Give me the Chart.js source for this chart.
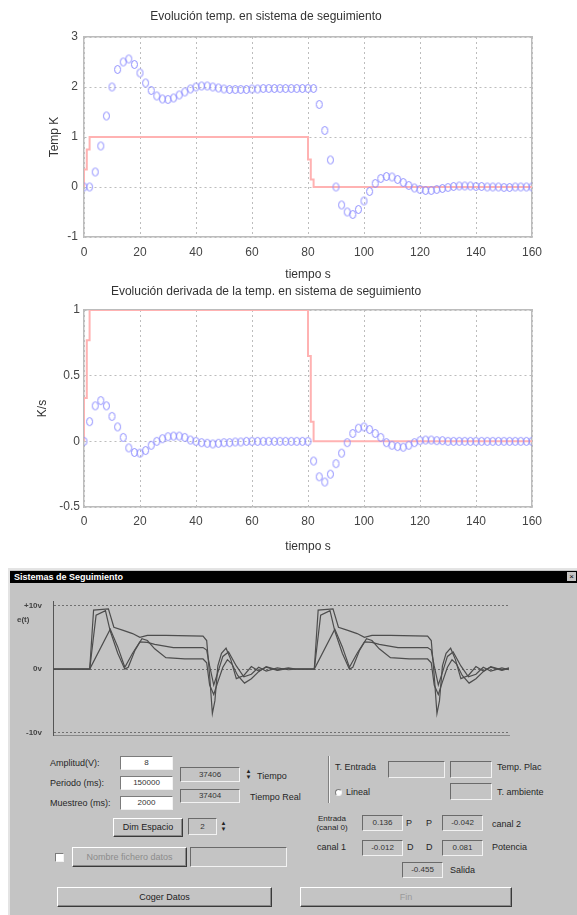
<!DOCTYPE html>
<html><head><meta charset="utf-8">
<script src="https://cdn.jsdelivr.net/npm/chart.js@4.4.1/dist/chart.umd.min.js"></script>
<style>
html,body{margin:0;padding:0;background:#fff;width:577px;height:915px;overflow:hidden;position:relative;font-family:'Liberation Sans',Arial,sans-serif;}
canvas{position:absolute;}
#win{position:absolute;left:8px;top:568px;width:569px;height:347px;background:#c4c4c4;border-left:2px solid #e4e4e4;border-top:2px solid #e4e4e4;box-sizing:border-box;}
#bar{position:absolute;left:10px;top:571px;width:567px;height:12px;background:#000;color:#fff;font:bold 9px 'Liberation Sans',Arial,sans-serif;line-height:12px;padding-left:4px;box-sizing:border-box;}
#closeb{position:absolute;left:567px;top:572px;width:9px;height:9px;background:#c4c4c4;font-size:8px;line-height:9px;text-align:center;color:#000;}
.t{position:absolute;font-size:9px;line-height:11px;white-space:nowrap;color:#262626;}
.w{position:absolute;background:#fff;border-top:1px solid #7b7b7b;border-left:1px solid #7b7b7b;border-right:1px solid #f2f2f2;border-bottom:1px solid #f2f2f2;box-sizing:border-box;font-size:8px;text-align:center;color:#333;}
.s{position:absolute;background:#c4c4c4;border-top:1px solid #6a6a6a;border-left:1px solid #6a6a6a;border-right:1px solid #f2f2f2;border-bottom:1px solid #f2f2f2;box-sizing:border-box;font-size:8px;text-align:center;color:#333;}
.b{position:absolute;background:#c4c4c4;border-top:1px solid #fff;border-left:1px solid #fff;border-right:1px solid #3a3a3a;border-bottom:1px solid #3a3a3a;box-shadow:inset -1px -1px 0 #8a8a8a;box-sizing:border-box;font-size:9px;text-align:center;color:#222;}
.sp{position:absolute;font-size:6px;line-height:6px;text-align:center;color:#222;}
</style>
</head><body>
<canvas id="c1" width="577" height="290" style="left:0;top:0"></canvas>
<canvas id="c2" width="577" height="285" style="left:0;top:280px"></canvas>
<div id="win"></div>
<div id="bar">Sistemas de Seguimiento</div>
<div id="closeb">×</div>
<canvas id="c3" width="520" height="165" style="left:8px;top:586px"></canvas>
<div class="t" style="left:17px;top:614px;font-size:8px;font-weight:bold;color:#444">e(t)</div>

<div class="t" style="left:50px;top:758px">Amplitud(V):</div>
<div class="t" style="left:50px;top:778px">Periodo (ms):</div>
<div class="t" style="left:50px;top:798px">Muestreo (ms):</div>
<div class="w" style="left:120px;top:756px;width:53px;height:14px;line-height:12px">8</div>
<div class="w" style="left:120px;top:776px;width:53px;height:14px;line-height:12px">150000</div>
<div class="w" style="left:120px;top:796px;width:53px;height:14px;line-height:12px">2000</div>
<div class="s" style="left:180px;top:767px;width:60px;height:15px;line-height:13px">37406</div>
<div class="sp" style="left:244px;top:768px;width:9px;height:14px">▲<br>▼</div>
<div class="t" style="left:257px;top:771px">Tiempo</div>
<div class="s" style="left:180px;top:789px;width:60px;height:14px;line-height:12px">37404</div>
<div class="t" style="left:250px;top:792px">Tiempo Real</div>
<div class="b" style="left:113px;top:818px;width:70px;height:19px;line-height:17px">Dim Espacio</div>
<div class="s" style="left:188px;top:818px;width:29px;height:17px;line-height:15px">2</div>
<div class="sp" style="left:219px;top:820px;width:9px;height:14px">▲<br>▼</div>
<div class="w" style="left:55px;top:853px;width:9px;height:9px"></div>
<div class="b" style="left:72px;top:847px;width:115px;height:20px;line-height:18px;color:#8c8c8c">Nombre fichero datos</div>
<div class="s" style="left:190px;top:847px;width:97px;height:20px"></div>
<div class="b" style="left:57px;top:887px;width:215px;height:20px;line-height:18px">Coger Datos</div>

<div style="position:absolute;left:328px;top:756px;width:1px;height:47px;background:#808080;border-right:1px solid #f2f2f2"></div>
<div class="t" style="left:335px;top:762px">T. Entrada</div>
<div class="s" style="left:388px;top:761px;width:57px;height:17px"></div>
<div class="s" style="left:450px;top:761px;width:42px;height:17px"></div>
<div class="t" style="left:497px;top:762px">Temp. Plac</div>
<div class="w" style="left:335px;top:789px;width:7px;height:7px;border-radius:50%"></div>
<div class="t" style="left:346px;top:787px">Lineal</div>
<div class="s" style="left:450px;top:783px;width:42px;height:17px"></div>
<div class="t" style="left:497px;top:787px">T. ambiente</div>
<div class="t" style="left:313px;top:814px;width:38px;text-align:center;line-height:9px;font-size:8px">Entrada<br>(canal 0)</div>
<div class="s" style="left:362px;top:815px;width:41px;height:16px;line-height:14px">0.136</div>
<div class="t" style="left:406px;top:818px">P</div>
<div class="t" style="left:426px;top:818px">P</div>
<div class="s" style="left:442px;top:815px;width:41px;height:16px;line-height:14px">-0.042</div>
<div class="t" style="left:492px;top:819px">canal 2</div>
<div class="t" style="left:317px;top:842px">canal 1</div>
<div class="s" style="left:362px;top:840px;width:41px;height:16px;line-height:14px">-0.012</div>
<div class="t" style="left:407px;top:842px">D</div>
<div class="t" style="left:426px;top:842px">D</div>
<div class="s" style="left:442px;top:840px;width:41px;height:16px;line-height:14px">0.081</div>
<div class="t" style="left:492px;top:842px">Potencia</div>
<div class="s" style="left:402px;top:862px;width:41px;height:16px;line-height:14px">-0.455</div>
<div class="t" style="left:450px;top:865px">Salida</div>
<div class="b" style="left:300px;top:887px;width:212px;height:20px;line-height:18px;color:#9a9a9a">Fin</div>

<script>
// ---------- data ----------
const timeS = [0,2,4,6,8,10,12,14,16,18,
  20,22,24,26,28,30,32,34,36,38,
  40,42,44,46,48,50,52,54,56,58,
  60,62,64,66,68,70,72,74,76,78,
  80,82,84,86,88,90,92,94,96,98,
  100,102,104,106,108,110,112,114,116,118,
  120,122,124,126,128,130,132,134,136,138,
  140,142,144,146,148,150,152,154,156,158,160];
const tempK = [0,0,0.3,0.82,1.42,2.0,2.35,2.5,2.56,2.45,
  2.28,2.08,1.93,1.82,1.76,1.75,1.78,1.84,1.9,1.96,
  2.0,2.02,2.02,2.0,1.98,1.96,1.95,1.95,1.95,1.95,
  1.96,1.96,1.97,1.97,1.97,1.97,1.97,1.97,1.97,1.97,
  1.97,1.97,1.65,1.13,0.54,0.0,-0.36,-0.5,-0.55,-0.45,
  -0.28,-0.09,0.07,0.17,0.21,0.2,0.15,0.09,0.03,-0.02,
  -0.05,-0.07,-0.07,-0.05,-0.03,-0.01,0.01,0.02,0.02,0.02,
  0.01,0.01,0,0,0,-0.01,-0.01,0,0,0,0];
const derivKs = [0,0.15,0.27,0.31,0.27,0.19,0.11,0.03,-0.05,-0.085,
  -0.09,-0.07,-0.03,0,0.02,0.035,0.04,0.04,0.03,0.01,
  0,-0.01,-0.015,-0.02,-0.015,-0.01,-0.01,-0.005,-0.005,0,
  0,0,0,0,0,0,0,0,0,0,
  0,-0.15,-0.27,-0.31,-0.25,-0.17,-0.09,-0.01,0.06,0.1,
  0.11,0.09,0.06,0.03,-0.01,-0.03,-0.04,-0.045,-0.03,-0.01,
  0.005,0.01,0.01,0.005,0.005,0,0,0,0,0,
  0,0,0,0,0,0,0,0,0,0,0];
const refTime = [0,0,1,1,2,2,80,80,81,81,82,82,160];
const refTemp = [0,0.35,0.35,0.75,0.75,1,1,0.55,0.55,0.15,0.15,0,0];
const refDeriv = [0,0.33,0.33,0.77,0.77,1,1,0.65,0.65,0.15,0.15,0,0];
const xTickVals = [0,20,40,60,80,100,120,140,160];
const yTickTemp = [-1,0,1,2,3];
const yTickDeriv = [-0.5,0,0.5,1];
const title1 = 'Evolución temp. en sistema de seguimiento';
const title2 = 'Evolución derivada de la temp. en sistema de seguimiento';

// oscilloscope traces [t, volts]
const scopeA = [[0,0],[16.1,0],[17.8,9.3],[24.3,9.5],[26.7,6.6],[30.8,6.1],[34.9,5.6],[38.1,5.0],[41.4,5.3],[49.5,5.3],[65.8,5.2],[67.4,4.5],[68.7,-1],[69.9,-7.0],[71.0,-5],[72.3,0.5],[73.9,2.5],[75.9,3.3],[78.0,1.5],[80.4,-1.5],[83.7,-1.0],[87.0,0.4],[90.2,-0.3],[93.5,0.3],[98.4,-0.2],[103.2,0.1],[106.5,0],
  [114.6,0],[116.3,9.3],[122.8,9.5],[125.2,6.6],[129.3,6.1],[133.4,5.6],[136.6,5.0],[139.9,5.3],[148,5.3],[164.3,5.2],[165.9,4.5],[167.2,-1],[168.4,-7.0],[169.5,-5],[170.8,0.5],[172.4,2.5],[174.4,3.3],[176.5,1.5],[178.9,-1.5],[182.2,-1.0],[185.5,0.4],[188.7,-0.3],[192,0.3],[196.9,-0.2],[200,0.1]];
const scopeB = [[0,0],[16.1,0],[25.1,6.3],[28.4,3.5],[31.5,0.3],[34.9,2.5],[38.1,4.3],[41.4,4.2],[44.6,3.9],[52.8,3.4],[65.8,3.4],[67.4,3.0],[68.7,0.5],[70.5,-2.5],[72.3,-0.5],[74.5,2.0],[77,2.7],[80.4,0.5],[83.7,-1.2],[87,-0.8],[90.2,0.3],[93.5,-0.3],[98.4,0.2],[103.2,-0.1],[106.5,0],
  [114.6,0],[123.6,6.3],[126.9,3.5],[130,0.3],[133.4,2.5],[136.6,4.3],[139.9,4.2],[143.1,3.9],[151.3,3.4],[164.3,3.4],[165.9,3.0],[167.2,0.5],[169,-2.5],[170.8,-0.5],[173,2.0],[175.5,2.7],[178.9,0.5],[182.2,-1.2],[185.5,-0.8],[188.7,0.3],[192,-0.3],[196.9,0.2],[200,-0.1]];
const scopeC = [[0,0],[16.1,0],[18.9,8.5],[23,9.2],[25.1,6.0],[28.4,2.5],[31.5,0.0],[33,0.3],[36,3.0],[39,4.8],[41.4,4.5],[44.6,3.2],[49.5,1.8],[57.7,1.6],[65.8,1.6],[67.4,1.0],[68.7,-2.5],[70.5,-4],[72.3,-2],[74.5,0.3],[76.5,1.5],[78.5,0.8],[81,-1.0],[84,-2.2],[87,-1.5],[90.2,-0.4],[93.5,0.4],[98.4,-0.1],[103.2,0.2],[106.5,0],
  [114.6,0],[117.4,8.5],[121.5,9.2],[123.6,6.0],[126.9,2.5],[130,0.0],[131.5,0.3],[134.5,3.0],[137.5,4.8],[139.9,4.5],[143.1,3.2],[148,1.8],[156.2,1.6],[164.3,1.6],[165.9,1.0],[167.2,-2.5],[169,-4],[170.8,-2],[173,0.3],[175,1.5],[177,0.8],[179.5,-1.0],[182.5,-2.2],[185.5,-1.5],[188.7,-0.4],[192,0.4],[196.9,-0.1],[200,0.2]];
const scopeTickVals = [10,0,-10];
const scopeTickText = ['+10v','0v','-10v'];

// ---------- styling ----------
Chart.defaults.font.family = "'Liberation Sans', Arial, sans-serif";
const blue = 'rgb(140,140,255)';
const pink = 'rgb(255,178,178)';
const gridC = '#bdbdbd';
const boxC = '#bcbcbc';

function ellipseMarker(color){
  const c = document.createElement('canvas');
  c.width = 9; c.height = 11;
  const g = c.getContext('2d');
  g.strokeStyle = color; g.lineWidth = 1;
  g.beginPath(); g.ellipse(4.5,5.5,3,4,0,0,Math.PI*2); g.stroke();
  return c;
}
const mk = ellipseMarker(blue);
const fixedTicks = vals => s => { s.ticks = vals.map(v => ({value: v})); };
const pts = (xs, ys) => xs.map((x,i) => ({x: x, y: ys[i]}));
const plainLabel = v => String(v);

function boxScales(){
  return {
    xTop:{type:'linear',position:'top',min:0,max:1,ticks:{display:false},grid:{drawOnChartArea:false,drawTicks:false},border:{display:true,color:boxC,width:1.5},afterFit:s=>{s.height=0;}},
    yRight:{type:'linear',position:'right',min:0,max:1,ticks:{display:false},grid:{drawOnChartArea:false,drawTicks:false},border:{display:true,color:boxC,width:1.5},afterFit:s=>{s.width=0;}}
  };
}

function matlabChart(id, o){
  const scales = Object.assign({
    x:{type:'linear',position:'bottom',min:0,max:160,afterBuildTicks:fixedTicks(xTickVals),
       afterFit:s=>{s.height=o.xH;},
       ticks:{padding:o.xTickPad,color:'#454545',font:{size:12},autoSkip:false,maxRotation:0,callback:plainLabel},
       grid:{color:gridC,drawTicks:false},border:{display:true,color:boxC,width:1.5,dash:[2,3]},
       title:{display:true,text:'tiempo s',color:'#333',font:{size:12},padding:{top:0,bottom:o.xTitlePad}}},
    y:{type:'linear',position:'left',min:o.yMin,max:o.yMax,afterBuildTicks:fixedTicks(o.yTicks),
       afterFit:s=>{s.width=84;},
       ticks:{padding:o.yTickPad,color:'#454545',font:{size:12},autoSkip:false,callback:plainLabel},
       grid:{color:gridC,drawTicks:false},border:{display:true,color:boxC,width:1.5,dash:[2,3]},
       title:{display:true,text:o.yTitle,color:'#333',font:{size:12},padding:{top:o.yTitlePad,bottom:0}}}
  }, boxScales());
  return new Chart(document.getElementById(id), {
    type:'scatter',
    data:{datasets:[
      {data:pts(timeS,o.series),showLine:false,pointStyle:mk,pointRadius:4,borderColor:blue,backgroundColor:'transparent'},
      {data:pts(refTime,o.ref),showLine:true,pointRadius:0,borderColor:pink,borderWidth:2,fill:false}
    ]},
    options:{responsive:false,animation:false,devicePixelRatio:1,
      layout:{padding:{left:0,right:45,top:0,bottom:0}},
      plugins:{legend:{display:false},tooltip:{enabled:false},
        title:{display:true,text:o.title,color:'#333',font:{size:12,weight:'normal'},padding:{top:o.tTop,bottom:o.tBot}}},
      scales:scales}
  });
}

matlabChart('c1',{series:tempK,ref:refTemp,yMin:-1,yMax:3,yTicks:yTickTemp,yTitle:'Temp K',title:title1,
  tTop:9.8,tBot:12.8,xH:53,xTickPad:8,xTitlePad:7.8,yTickPad:6,yTitlePad:47.8});
matlabChart('c2',{series:derivKs,ref:refDeriv,yMin:-0.5,yMax:1,yTicks:yTickDeriv,yTitle:'K/s',title:title2,
  tTop:4.8,tBot:10.8,xH:58,xTickPad:7.8,xTitlePad:10.8,yTickPad:4,yTitlePad:35.8});

// oscilloscope
const tr = arr => arr.map(p => ({x:p[0], y:p[1]}));
new Chart(document.getElementById('c3'), {
  type:'scatter',
  data:{datasets:[scopeA,scopeB,scopeC].map(a => ({data:tr(a),showLine:true,pointRadius:0,borderColor:'#4d4d4d',borderWidth:1.2,fill:false}))},
  options:{responsive:false,animation:false,devicePixelRatio:1,
    layout:{padding:{left:0,right:19,top:8.5,bottom:0}},
    plugins:{legend:{display:false},tooltip:{enabled:false}},
    scales:{
      x:{type:'linear',min:0,max:200,ticks:{display:false},grid:{drawOnChartArea:false,drawTicks:false},border:{display:true,color:'#8a8a8a',width:1},afterFit:s=>{s.height=6;}},
      y:{type:'linear',min:-10.4,max:10.6,afterBuildTicks:fixedTicks(scopeTickVals),
         ticks:{autoSkip:false,padding:11,color:'#444',font:{size:8,weight:'bold'},callback:v=>scopeTickText[scopeTickVals.indexOf(v)]},
         grid:{color:'#707070',drawTicks:false},border:{display:true,color:'#555',width:1,dash:[2,2]},
         afterFit:s=>{s.width=45;}}
    }}
});
</script>
</body></html>
